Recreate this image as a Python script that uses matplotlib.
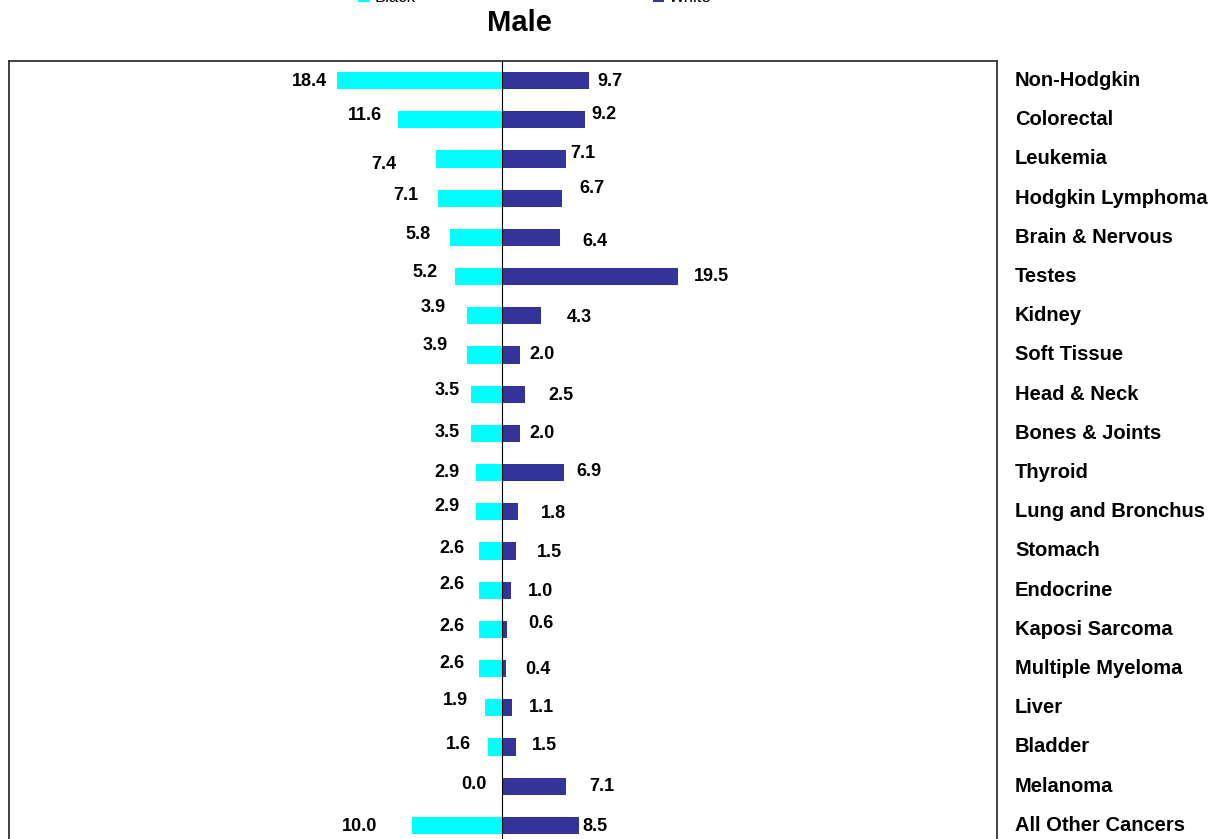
import numpy as np
import matplotlib.pyplot as plt

plt.rcParams['font.family'] = ['Liberation Sans', 'DejaVu Sans']

# data
sites = ['Non-Hodgkin', 'Colorectal', 'Leukemia', 'Hodgkin Lymphoma', 'Brain & Nervous',
         'Testes', 'Kidney', 'Soft Tissue', 'Head & Neck', 'Bones & Joints', 'Thyroid',
         'Lung and Bronchus', 'Stomach', 'Endocrine', 'Kaposi Sarcoma', 'Multiple Myeloma',
         'Liver', 'Bladder', 'Melanoma', 'All Other Cancers']
black = [18.4, 11.6, 7.4, 7.1, 5.8, 5.2, 3.9, 3.9, 3.5, 3.5, 2.9, 2.9, 2.6, 2.6, 2.6, 2.6,
         1.9, 1.6, 0.0, 10.0]
white = [9.7, 9.2, 7.1, 6.7, 6.4, 19.5, 4.3, 2.0, 2.5, 2.0, 6.9, 1.8, 1.5, 1.0, 0.6, 0.4,
         1.1, 1.5, 7.1, 8.5]

# label jitter (points) like the original excel export
black_dx = [-7, -11, -28, -14, -14, -13, -15, -14, -8, -8, -12, -12, -10, -10, -10, -10, -12, -12, -11, -25]
black_dy = [-1, 3, -4, 2, 2, 3, 6, 7, 3, 1, 0, 4, 2, 4, 2, 4, 5, 2, 1, -1]
white_dx = [6, 5, 3, 12, 16, 12, 19, 7, 17, 7, 9, 16, 15, 12, 15, 14, 12, 12, 17, 3]
white_dy = [-1, 4, 4, 7, -3, 0, -1, 0, -1, 0, 1, -1, -1, -1, 4, -1, 0, 1, 0, -1]

cyan = '#00FFFF'
navy = '#333399'

fig = plt.figure(figsize=(12.16, 8.39), dpi=100)
ax = fig.add_axes([9 / 1216, 1 - 845 / 839, 988 / 1216, 784 / 839])

y = np.arange(len(sites))
ax.barh(y, -np.array(black), height=0.44, color=cyan, label='Black')
ax.barh(y, white, height=0.44, color=navy, label='White')
ax.axvline(0, color='black', lw=0.8)

ax.set_xlim(-54.8, 55)
ax.set_ylim(len(sites) - 0.5, -0.5)
ax.set_xticks([])
ax.set_yticks([])
for s in ax.spines.values():
    s.set_linewidth(1.3)
    s.set_color('#333333')

lbl = dict(fontsize=13, fontweight='bold', va='center')
for i in range(len(sites)):
    ax.annotate(f'{black[i]:.1f}', (-black[i], i), xytext=(black_dx[i], black_dy[i]),
                textcoords='offset points', ha='right', **lbl)
    ax.annotate(f'{white[i]:.1f}', (white[i], i), xytext=(white_dx[i], white_dy[i]),
                textcoords='offset points', ha='left', **lbl)
    ax.annotate(sites[i], (1, i), xycoords=('axes fraction', 'data'), xytext=(13, 0),
                textcoords='offset points', ha='left', fontsize=14.5, fontweight='bold', va='center')

fig.text(519 / 1216, 1 - 23 / 839, 'Male', ha='center', va='center', fontsize=21, fontweight='bold')

fig.legend(loc='center', bbox_to_anchor=(0.44, 1.003), ncol=2, frameon=False, fontsize=12,
           handlelength=0.7, handleheight=0.7, handletextpad=0.3, columnspacing=14.2)

fig.savefig('out.png', dpi=100)
